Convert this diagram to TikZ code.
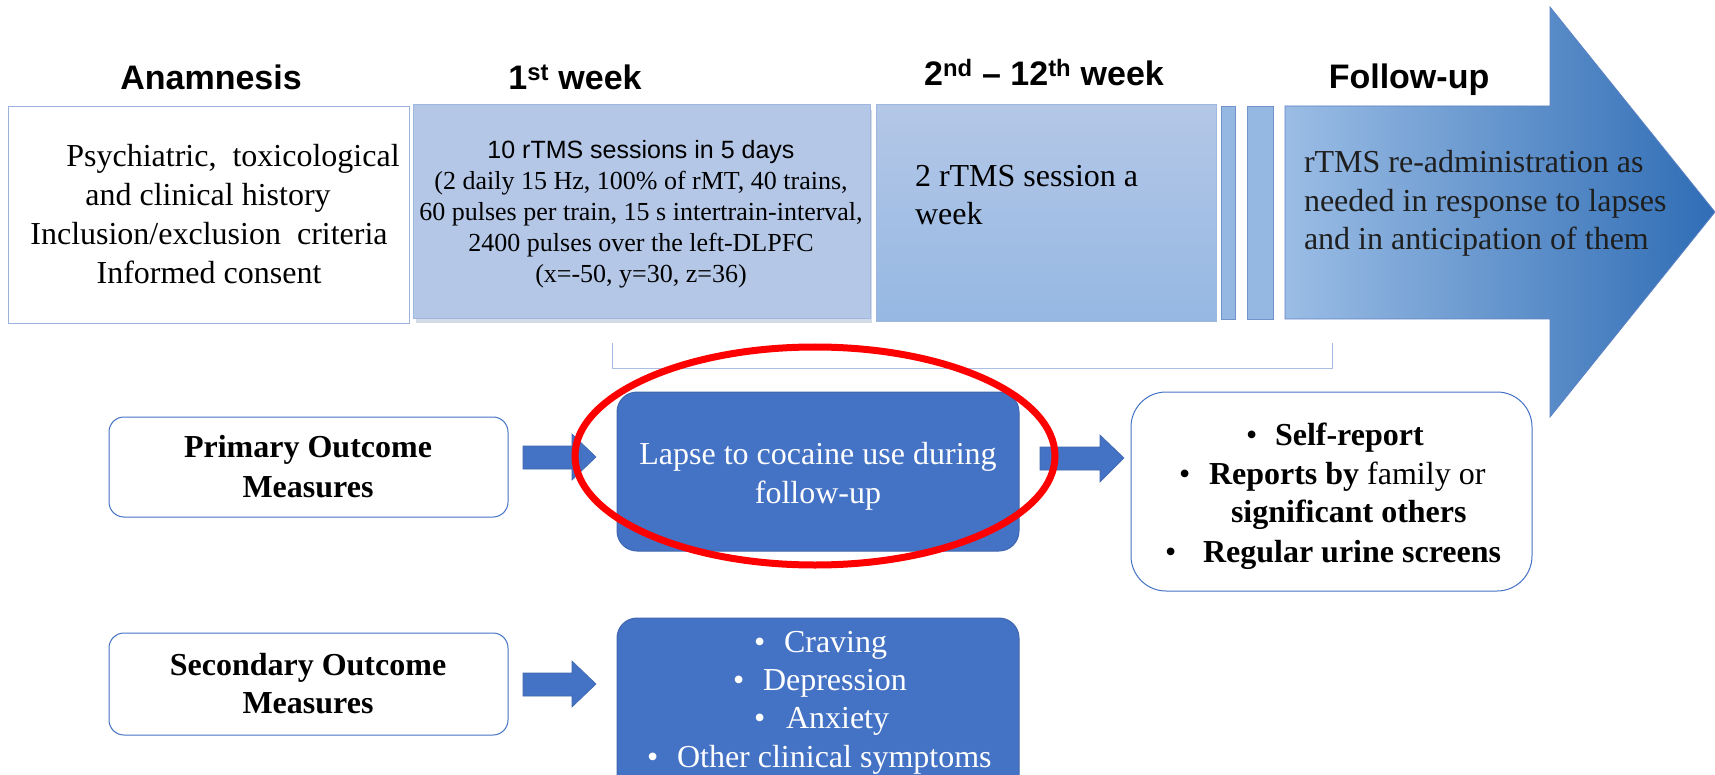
\documentclass[tikz,border=0pt]{standalone}
\usepackage{fontspec}
\setmainfont{Liberation Serif}
\newfontfamily\hdfont{Liberation Sans}[Ligatures=TeX]
\usetikzlibrary{calc}
\definecolor{boxblue}{HTML}{4472C4}
\definecolor{boxedge}{HTML}{3F67B0}
\definecolor{paleblue}{HTML}{B4C7E7}
\definecolor{paleedge}{HTML}{9FB6DF}
\definecolor{midblue}{HTML}{95B8E3}
\definecolor{baredge}{HTML}{6F95CC}
\definecolor{anamedge}{HTML}{9CB3DE}
\definecolor{fuleft}{HTML}{9BBDE5}
\definecolor{fumid}{HTML}{7A98D6}
\definecolor{furight}{HTML}{2F6DB5}
\definecolor{fuedge}{HTML}{5B82C4}
\definecolor{brackcol}{HTML}{A9BEE0}
\definecolor{ringred}{HTML}{FF0000}
\definecolor{shadowcol}{HTML}{D3DBE8}
\begin{document}
\begin{tikzpicture}[x=1pt,y=-1pt,
  every node/.style={inner sep=0pt,outer sep=0pt},
  hd/.style={font=\hdfont\bfseries\fontsize{34}{40}\selectfont,anchor=base},
  txt/.style={font=\fontsize{32}{38.5}\selectfont,anchor=base},
  txtw/.style={font=\fontsize{32}{38.5}\selectfont,anchor=base west},
  small/.style={font=\fontsize{26}{30}\selectfont,anchor=base},
  smallsans/.style={font=\hdfont\fontsize{25}{30}\selectfont,anchor=base},
  wtxt/.style={txt,text=white},
  wtxtw/.style={txtw,text=white},
  outbox/.style={draw=boxblue,line width=1pt,fill=white,rounded corners=15pt,anchor=north west},
  bluebox/.style={draw=boxedge,line width=1pt,fill=boxblue,rounded corners=20pt,anchor=north west},
  blockarrow/.style={fill=boxblue,draw=boxedge,line width=0.6pt}]
\clip (0,0) rectangle (1715,775);
\fill[white] (0,0) rectangle (1715,775);

% headers
\node[hd] (hA) at (211,90) {Anamnesis};
\node[hd] (hB) at (575,90) {1\textsuperscript{st} week};
\node[hd] (hC) at (1044,86) {2\textsuperscript{nd} \textendash{} 12\textsuperscript{th} week};
\node[hd] (hD) at (1409,89) {Follow-up};

% follow-up big arrow
\shade[left color=fuleft,middle color=fumid,right color=furight,draw=fuedge,line width=0.8pt]
  (1285,106) -- (1550,106) -- (1550,7) -- (1715,212) -- (1550,417) -- (1550,319) -- (1285,319) -- cycle;
\coordinate (fu) at (1285,106);

% top boxes
\node[draw=anamedge,line width=1pt,fill=white,minimum width=401pt,minimum height=217pt,anchor=north west] (anam) at (8,107) {};
\fill[shadowcol] (416,110) rectangle (872,323);
\node[draw=paleedge,line width=1pt,fill=paleblue,minimum width=457pt,minimum height=214pt,anchor=north west] (wk1) at (413,105) {};
\node[draw=paleedge,line width=1pt,top color=paleblue,bottom color=midblue,minimum width=340pt,minimum height=217pt,anchor=north west] (wk2) at (876,105) {};
\node[draw=baredge,line width=0.8pt,fill=midblue,minimum width=14pt,minimum height=213pt,anchor=north west] (bar1) at (1221,106) {};
\node[draw=baredge,line width=0.8pt,fill=midblue,minimum width=26pt,minimum height=213pt,anchor=north west] (bar2) at (1247,106) {};

% anamnesis text
\node[txt] (a1) at (233,167) {Psychiatric,\ \ toxicological};
\node[txt] (a2) at (208,206) {and clinical history};
\node[txt] (a3) at (209,245) {Inclusion/exclusion\ \ criteria};
\node[txt] (a4) at (209,284) {Informed consent};

% 1st week text
\node[smallsans] (b1) at (641,159) {10 rTMS sessions in 5 days};
\node[small] (b2) at (641,190) {(2 daily 15 Hz, 100\% of rMT, 40 trains,};
\node[small] (b3) at (641,221) {60 pulses per train, 15 s intertrain-interval,};
\node[small] (b4) at (641,252) {2400 pulses over the left-DLPFC};
\node[small] (b5) at (641,283) {(x=-50, y=30, z=36)};

% 2nd-12th week text
\node[txtw] (c1) at (915,187) {2 rTMS session a};
\node[txtw] (c2) at (915,225) {week};

% follow-up text
\node[txtw,text=black!88] (d1) at (1304,173) {rTMS re-administration\ as};
\node[txtw,text=black!88] (d2) at (1304,212) {needed in response to lapses};
\node[txtw,text=black!88] (d3) at (1304,250) {and in anticipation of them};

% bracket
\draw[brackcol,line width=1pt] (612,343) -- (612,368) -- (1332,368) -- (1332,343);

% bottom boxes
\node[outbox,minimum width=399pt,minimum height=100pt] (prim) at (109,417) {};
\node[outbox,minimum width=399pt,minimum height=102pt] (sec) at (109,633) {};
\node[bluebox,minimum width=402pt,minimum height=159pt] (lapse) at (617,392) {};
\node[bluebox,minimum width=402pt,minimum height=200pt] (symp) at (617,618) {};
\node[outbox,rounded corners=35pt,minimum width=401pt,minimum height=199pt] (res) at (1131,392) {};

% block arrows
\filldraw[blockarrow] (523,446) -- (572,446) -- (572,434) -- (596,457) -- (572,480) -- (572,469) -- (523,469) -- cycle;
\filldraw[blockarrow] (523,673) -- (572,673) -- (572,661) -- (596,684) -- (572,707) -- (572,696) -- (523,696) -- cycle;
\filldraw[blockarrow] (1040,447) -- (1100,447) -- (1100,435) -- (1124,458) -- (1100,482) -- (1100,470) -- (1040,470) -- cycle;

% box texts
\node[txt,font=\bfseries\fontsize{32}{38.5}\selectfont] (p1) at (308,457) {Primary Outcome};
\node[txt,font=\bfseries\fontsize{32}{38.5}\selectfont] (p2) at (308,497) {Measures};
\node[txt,font=\bfseries\fontsize{32}{38.5}\selectfont] (s1) at (308,675) {Secondary Outcome};
\node[txt,font=\bfseries\fontsize{32}{38.5}\selectfont] (s2) at (308,713) {Measures};

\node[wtxt] (l1) at (818,464) {Lapse to cocaine use during};
\node[wtxt] (l2) at (818,503) {follow-up};

\node[wtxtw] (sb1) at (754,652) {\textbullet};
\node[wtxtw] (st1) at (784,652) {Craving};
\node[wtxtw] (sb2) at (733,690) {\textbullet};
\node[wtxtw] (st2) at (763,690) {Depression};
\node[wtxtw] (sb3) at (754,728) {\textbullet};
\node[wtxtw] (st3) at (786,728) {Anxiety};
\node[wtxtw] (sb4) at (647,767) {\textbullet};
\node[wtxtw] (st4) at (677,767) {Other clinical symptoms};

\node[txtw] (rb1) at (1246,445) {\textbullet};
\node[txtw] (rt1) at (1275,445) {\textbf{Self-report}};
\node[txtw] (rb2) at (1179,484) {\textbullet};
\node[txtw] (rt2) at (1209,484) {\textbf{Reports by} family or};
\node[txtw] (rt3) at (1231,522) {\textbf{significant others}};
\node[txtw] (rb4) at (1165,562) {\textbullet};
\node[txtw] (rt4) at (1203,562) {\textbf{Regular urine screens}};

% red ring
\draw[ringred,line width=7pt] (815,456) ellipse [x radius=240, y radius=109];
\end{tikzpicture}
\end{document}
